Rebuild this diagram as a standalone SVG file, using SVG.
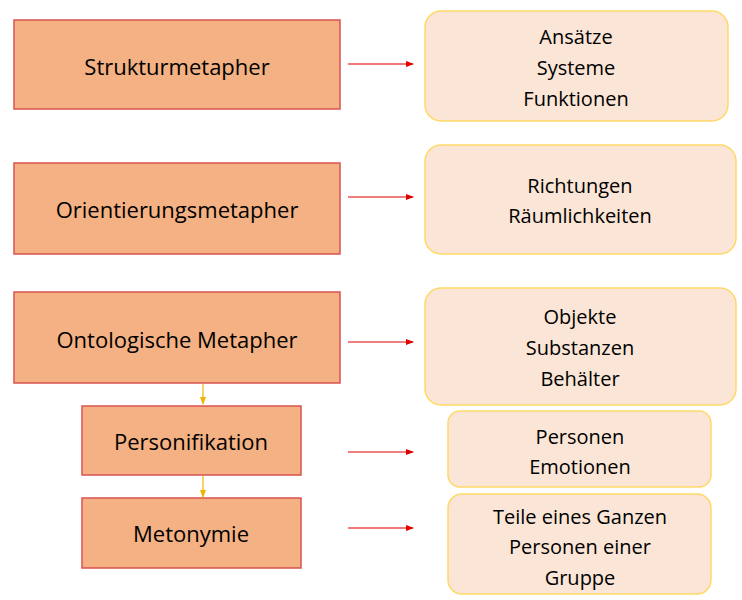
<svg xmlns="http://www.w3.org/2000/svg" width="742" height="600" viewBox="0 0 742 600">
<defs>
<marker id="ar" markerWidth="8" markerHeight="8" refX="7" refY="4" orient="auto" markerUnits="userSpaceOnUse"><path d="M0,1 L8,4 L0,7 z" fill="#E00000"/></marker>
<marker id="ay" markerWidth="8" markerHeight="8" refX="7" refY="4" orient="auto" markerUnits="userSpaceOnUse"><path d="M0,1 L8,4 L0,7 z" fill="#F0B400"/></marker>
<style>
.l{fill:#F4B183;stroke:#D9534F;stroke-width:1.5}
.r{fill:#FBE5D6;stroke:#FFD966;stroke-width:1.5}
.t{font-family:"Open Sans",sans-serif;font-size:22px;fill:#000;text-anchor:middle;dominant-baseline:central}
.s{font-family:"Open Sans",sans-serif;font-size:20px;fill:#000;text-anchor:middle;dominant-baseline:central}
.c{stroke:#E00000;stroke-width:1.2;fill:none}
.y{stroke:#F0B400;stroke-width:1.2;fill:none}
</style>
</defs>
<rect width="742" height="600" fill="#fff"/>
<g id="n1"><rect class="l" x="14" y="20" width="326" height="89"/><text class="t" x="177" y="66">Strukturmetapher</text></g>
<g id="n2"><rect class="l" x="14" y="163" width="326" height="91"/><text class="t" x="177" y="209">Orientierungsmetapher</text></g>
<g id="n3"><rect class="l" x="14" y="292" width="326" height="91"/><text class="t" x="177" y="339">Ontologische Metapher</text></g>
<g id="n4"><rect class="l" x="82" y="406" width="219" height="69"/><text class="t" x="191" y="441">Personifikation</text></g>
<g id="n5"><rect class="l" x="82" y="498" width="219" height="70"/><text class="t" x="191" y="533">Metonymie</text></g>
<g id="r1"><rect class="r" x="425" y="11" width="303" height="110" rx="16"/><text class="s" x="576" y="36">Ansätze</text><text class="s" x="576" y="67">Systeme</text><text class="s" x="576" y="98">Funktionen</text></g>
<g id="r2"><rect class="r" x="425" y="145" width="311" height="109" rx="16"/><text class="s" x="580" y="185">Richtungen</text><text class="s" x="580" y="215">Räumlichkeiten</text></g>
<g id="r3"><rect class="r" x="425" y="288" width="311" height="117" rx="16"/><text class="s" x="580" y="316">Objekte</text><text class="s" x="580" y="347">Substanzen</text><text class="s" x="580" y="378">Behälter</text></g>
<g id="r4"><rect class="r" x="448" y="411" width="263" height="76" rx="12"/><text class="s" x="580" y="436">Personen</text><text class="s" x="580" y="466">Emotionen</text></g>
<g id="r5"><rect class="r" x="448" y="494" width="263" height="100" rx="14"/><text class="s" x="580" y="516">Teile eines Ganzen</text><text class="s" x="580" y="546">Personen einer</text><text class="s" x="580" y="577">Gruppe</text></g>
<g id="connectors">
<line class="c" x1="348" y1="64" x2="413" y2="64" marker-end="url(#ar)"/>
<line class="c" x1="348" y1="197" x2="413" y2="197" marker-end="url(#ar)"/>
<line class="c" x1="348" y1="342" x2="413" y2="342" marker-end="url(#ar)"/>
<line class="c" x1="348" y1="452" x2="413" y2="452" marker-end="url(#ar)"/>
<line class="c" x1="348" y1="528" x2="413" y2="528" marker-end="url(#ar)"/>
<line class="y" x1="203" y1="384" x2="203" y2="404" marker-end="url(#ay)"/>
<line class="y" x1="203" y1="476" x2="203" y2="497" marker-end="url(#ay)"/>
</g>
</svg>
